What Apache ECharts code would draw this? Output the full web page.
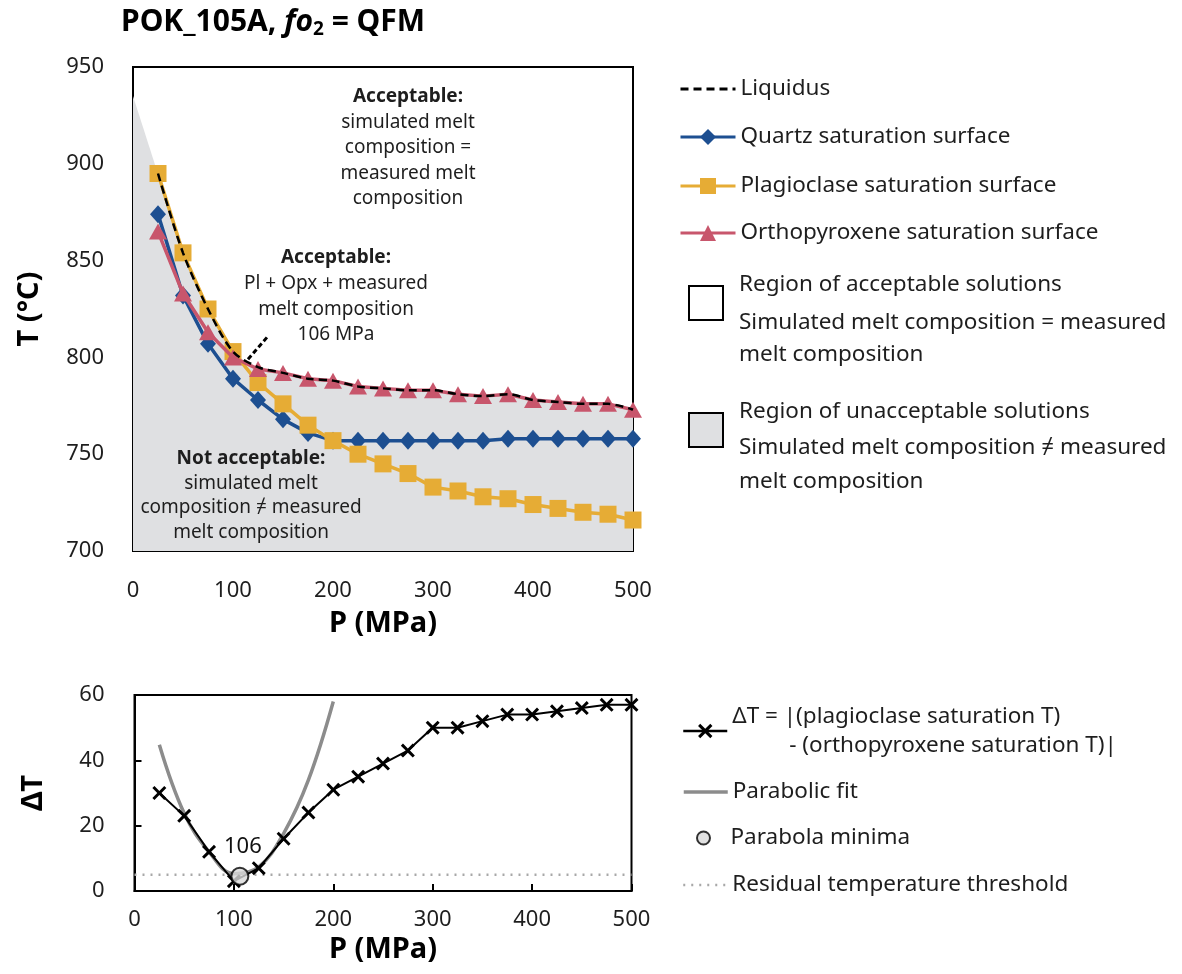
<!DOCTYPE html>
<html>
<head>
<meta charset="utf-8">
<script src="https://cdn.jsdelivr.net/npm/echarts@6/dist/echarts.min.js"></script>
<style>
  html, body { margin: 0; padding: 0; background: #fff; }
  #chart { width: 1182px; height: 974px; }
</style>
</head>
<body>
<div id="chart"></div>
<script>
// Pressure steps (MPa) of the phase-equilibrium runs
const pressure = [25, 50, 75, 100, 125, 150, 175, 200, 225, 250, 275, 300, 325, 350, 375, 400, 425, 450, 475, 500];

// Saturation temperatures (°C) at each pressure
const quartzT = [874, 832, 807, 789, 778, 768, 761, 757, 757, 757, 757, 757, 757, 757, 758, 758, 758, 758, 758, 758];
const plagT   = [895, 854, 825, 803, 787, 776, 765, 757, 750, 745, 740, 733, 731, 728, 727, 724, 722, 720, 719, 716];
const opxT    = [865, 833, 813, 800, 794, 792, 789, 788, 785, 784, 783, 783, 781, 780, 781, 778, 777, 776, 776, 773];
const liquidusT = [895, 854, 825, 803, 795, 792, 789, 788, 785, 784, 783, 783, 781, 780, 781, 778, 777, 776, 776, 773];

// Upper edge of the grey (unacceptable) field, extended back to 0 MPa
const regionStart = [0, 935];

// Leader line from the middle annotation to the Pl + Opx intersection
const leader = [[115, 799], [135, 811]];

// |plagioclase T - orthopyroxene T| (°C)
const deltaT = [30, 23, 12, 3, 7, 16, 24, 31, 35, 39, 43, 50, 50, 52, 54, 54, 55, 56, 57, 57];

// Parabolic fit through the low-pressure part of deltaT
const fitP = [25, 50, 75, 100, 125, 150, 175, 200];
const fitT = [44.8, 23.8, 12, 5.3, 7.4, 17.6, 34, 58];

// Minimum of the parabola and the residual threshold
const parabolaMin = [106, 4.5];
const threshold = 5;

// Axis ticks
const pTicks = { min: 0, max: 500, interval: 100 };
const tTicks = { min: 700, max: 950, interval: 50 };
const dTicks = { min: 0, max: 60, interval: 20 };

const FONT = '"Noto Sans", "DejaVu Sans", sans-serif';
const INK = '#1e1e1e';
const BLUE = '#1d4f91';
const GOLD = '#e6ac35';
const ROSE = '#c8566c';
const FIELD = '#dfe0e2';
const FIT = '#8c8c8c';
const DOTS = '#a8a8a8';
const CROSS = 'path://M0,3L3,0L10,7L17,0L20,3L13,10L20,17L17,20L10,13L3,20L0,17L7,10Z';

const pairs = (xs, ys) => xs.map((x, i) => [x, ys[i]]);

const axisBase = {
  type: 'value',
  axisLine: { show: true, lineStyle: { color: '#000', width: 2 } },
  axisTick: { show: true, inside: true, length: 7, lineStyle: { color: '#000', width: 2 } },
  splitLine: { show: false },
  axisLabel: { fontFamily: FONT, fontSize: 22, color: INK }
};
const nameStyle = { fontFamily: FONT, fontSize: 29, fontWeight: 'bold', color: '#000' };

const legendText = { fontFamily: FONT, fontSize: 22.5, color: INK, lineHeight: 28 };
// symbol-less lines keep a plain line in their key
const lineOnly = { itemStyle: { opacity: 0 } };
function legendItem(name, left, top, extra) {
  return Object.assign({
    data: [name], left: left, top: top, padding: 0, orient: 'vertical',
    itemWidth: 55, itemHeight: 20, selectedMode: false, textStyle: legendText,
    lineStyle: { width: 3 }
  }, extra || {});
}

const annotation = (x, y, lh, lines) => ({
  type: 'text', x: x, y: y, z: 100, silent: true,
  style: {
    text: lines.map((l, i) => (i === 0 ? '{h|' : '{t|') + l + '}').join('\n'),
    align: 'center', verticalAlign: 'top', textAlign: 'center', textVerticalAlign: 'top',
    fill: INK,
    rich: {
      h: { fontFamily: FONT, fontSize: 19, fontWeight: 'bold', lineHeight: lh, fill: INK, color: INK },
      t: { fontFamily: FONT, fontSize: 19, lineHeight: lh, fill: INK, color: INK }
    }
  }
});
const label = (x, y, text) => ({
  type: 'text', x: x, y: y, z: 100, silent: true,
  style: { text: text, fontFamily: FONT, fontSize: 22.5, fill: INK,
           font: '22.5px ' + FONT, verticalAlign: 'middle', textVerticalAlign: 'middle' }
});

const option = {
  backgroundColor: '#fff',
  animation: false,
  title: {
    left: 116, top: 0,
    text: '{b|POK_105A, }{i|fo}{s|2}{b| = QFM}',
    textStyle: {
      rich: {
        b: { fontFamily: FONT, fontSize: 30, fontWeight: 'bold', color: '#000' },
        i: { fontFamily: FONT, fontSize: 30, fontWeight: 'bold', fontStyle: 'italic', color: '#000' },
        s: { fontFamily: FONT, fontSize: 19, fontWeight: 'bold', color: '#000', padding: [15, 0, 0, 0] }
      }
    }
  },
  grid: [
    { left: 133, top: 67, width: 500, height: 484, show: true, borderColor: '#000', borderWidth: 2, backgroundColor: 'transparent' },
    { left: 134.5, top: 695, width: 497, height: 196, show: true, borderColor: '#000', borderWidth: 2, backgroundColor: 'transparent' }
  ],
  xAxis: [
    Object.assign({}, axisBase, pTicks, {
      gridIndex: 0, name: 'P (MPa)', nameLocation: 'middle', nameGap: 58, nameTextStyle: nameStyle,
      axisLabel: Object.assign({}, axisBase.axisLabel, { margin: 29 })
    }),
    Object.assign({}, axisBase, pTicks, {
      gridIndex: 1, name: 'P (MPa)', nameLocation: 'middle', nameGap: 44, nameTextStyle: nameStyle,
      axisLabel: Object.assign({}, axisBase.axisLabel, { margin: 18 })
    })
  ],
  yAxis: [
    Object.assign({}, axisBase, tTicks, {
      gridIndex: 0, name: 'T (°C)', nameLocation: 'middle', nameRotate: 90, nameGap: 89, nameTextStyle: nameStyle,
      axisLabel: Object.assign({}, axisBase.axisLabel, { margin: 29 })
    }),
    Object.assign({}, axisBase, dTicks, {
      gridIndex: 1, name: 'ΔT', nameLocation: 'middle', nameRotate: 90, nameGap: 86, nameTextStyle: nameStyle,
      axisLabel: Object.assign({}, axisBase.axisLabel, { margin: 30 })
    })
  ],
  legend: [
    legendItem('Liquidus', 679, 75, lineOnly),
    legendItem('Quartz saturation surface', 679, 123),
    legendItem('Plagioclase saturation surface', 679, 172),
    legendItem('Orthopyroxene saturation surface', 679, 219),
    legendItem('ΔT', 682, 702, {
      itemWidth: 44, itemHeight: 18, lineStyle: { width: 2.5 },
      formatter: () => '{a|ΔT = |(plagioclase saturation T)}\n{b|- (orthopyroxene saturation T)|}',
      textStyle: Object.assign({}, legendText, {
        rich: {
          a: { fontFamily: FONT, fontSize: 22.5, color: INK, lineHeight: 29 },
          b: { fontFamily: FONT, fontSize: 22.5, color: INK, lineHeight: 29, padding: [0, 0, 0, 57] }
        }
      })
    }),
    legendItem('Parabolic fit', 682, 778, Object.assign({ itemWidth: 44, lineStyle: { width: 3.5 } }, lineOnly)),
    legendItem('Parabola minima', 696, 824, { itemWidth: 44, itemHeight: 13 }),
    legendItem('Residual temperature threshold', 682, 871, Object.assign({ itemWidth: 44, lineStyle: { width: 2.5 } }, lineOnly))
  ],
  graphic: [
    annotation(408, 84, 25.5, ['Acceptable:', 'simulated melt', 'composition =', 'measured melt', 'composition']),
    annotation(336, 245, 25.7, ['Acceptable:', 'Pl + Opx + measured', 'melt composition', '106 MPa']),
    annotation(251, 446, 24.8, ['Not acceptable:', 'simulated melt', 'composition ≠ measured', 'melt composition']),
    { type: 'rect', z: 100, shape: { x: 689, y: 286, width: 34, height: 34 }, style: { fill: '#fff', stroke: '#000', lineWidth: 2 } },
    label(739, 285, 'Region of acceptable solutions'),
    label(739, 323, 'Simulated melt composition = measured'),
    label(739, 355, 'melt composition'),
    { type: 'rect', z: 100, shape: { x: 689, y: 413, width: 34, height: 34 }, style: { fill: FIELD, stroke: '#000', lineWidth: 2 } },
    label(739, 412, 'Region of unacceptable solutions'),
    label(739, 448, 'Simulated melt composition ≠ measured'),
    label(739, 482, 'melt composition')
  ],
  series: [
    {
      name: 'Unacceptable field', type: 'line', xAxisIndex: 0, yAxisIndex: 0, silent: true,
      data: [regionStart].concat(pairs(pressure, liquidusT)),
      smooth: 0.3, symbol: 'none', z: 1,
      lineStyle: { width: 0, color: FIELD },
      areaStyle: { color: FIELD, opacity: 1, origin: 'start' }
    },
    {
      name: 'Quartz saturation surface', type: 'line', xAxisIndex: 0, yAxisIndex: 0,
      data: pairs(pressure, quartzT), symbol: 'diamond', symbolSize: [16, 18], z: 3,
      color: BLUE, lineStyle: { color: BLUE, width: 3.5 }, itemStyle: { color: BLUE }
    },
    {
      name: 'Plagioclase saturation surface', type: 'line', xAxisIndex: 0, yAxisIndex: 0,
      data: pairs(pressure, plagT), symbol: 'rect', symbolSize: 17, z: 4,
      color: GOLD, lineStyle: { color: GOLD, width: 3.5 }, itemStyle: { color: GOLD }
    },
    {
      name: 'Orthopyroxene saturation surface', type: 'line', xAxisIndex: 0, yAxisIndex: 0,
      data: pairs(pressure, opxT), symbol: 'triangle', symbolSize: [18, 16], z: 5,
      color: ROSE, lineStyle: { color: ROSE, width: 3.5 }, itemStyle: { color: ROSE }
    },
    {
      name: 'Liquidus', type: 'line', xAxisIndex: 0, yAxisIndex: 0,
      data: pairs(pressure, liquidusT), smooth: 0.3, symbol: 'none', z: 6,
      color: '#000', lineStyle: { color: '#000', width: 2.5, type: [8, 5] }
    },
    {
      name: 'leader', type: 'line', xAxisIndex: 0, yAxisIndex: 0, silent: true,
      data: leader, symbol: 'none', z: 6,
      lineStyle: { color: '#000', width: 3, type: [5, 3] }
    },
    {
      name: 'Residual temperature threshold', type: 'line', xAxisIndex: 1, yAxisIndex: 1,
      data: [[pTicks.min, threshold], [pTicks.max, threshold]], symbol: 'none', z: 2,
      color: DOTS, lineStyle: { color: DOTS, width: 2.5, type: [2, 6] }
    },
    {
      name: 'Parabolic fit', type: 'line', xAxisIndex: 1, yAxisIndex: 1,
      data: pairs(fitP, fitT), smooth: 0.4, symbol: 'none', z: 3,
      color: FIT, lineStyle: { color: FIT, width: 3.5 }
    },
    {
      name: 'ΔT', type: 'line', xAxisIndex: 1, yAxisIndex: 1,
      data: pairs(pressure, deltaT), symbol: CROSS, symbolSize: 14, z: 4,
      color: '#000', lineStyle: { color: '#000', width: 2 }, itemStyle: { color: '#000' }
    },
    {
      name: 'Parabola minima', type: 'scatter', xAxisIndex: 1, yAxisIndex: 1,
      data: [parabolaMin], symbol: 'circle', symbolSize: 17, z: 6,
      itemStyle: { color: '#d9d9d9', borderColor: '#000', borderWidth: 2 },
      label: {
        show: true, position: 'top', distance: 9, offset: [3, 0],
        formatter: p => '{v|' + p.value[0] + '}',
        rich: { v: { fontFamily: FONT, fontSize: 22, color: '#111', opacity: 1 } }
      }
    }
  ]
};

const chart = echarts.init(document.getElementById('chart'), null, { renderer: 'canvas' });
chart.setOption(option);
</script>
</body>
</html>
